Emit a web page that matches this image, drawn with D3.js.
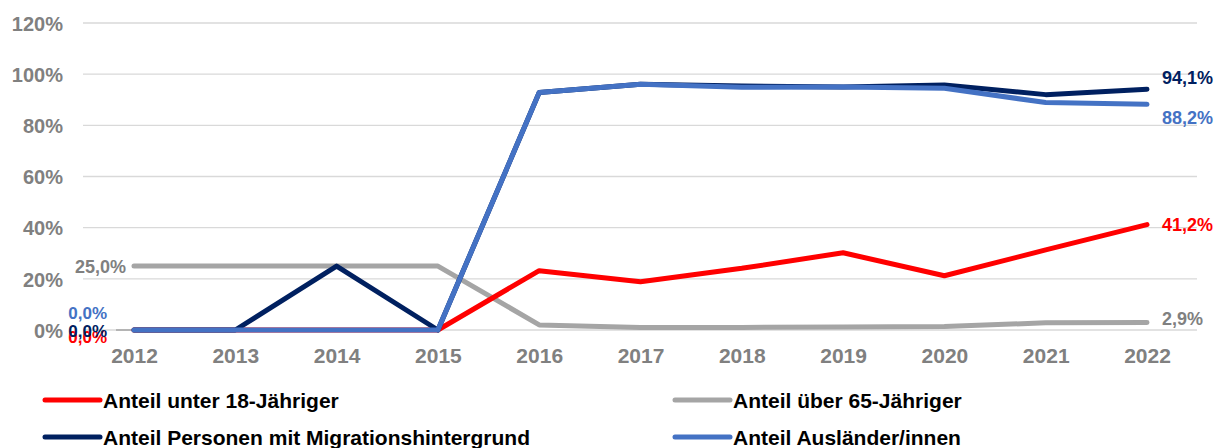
<!DOCTYPE html>
<html lang="de">
<head>
<meta charset="utf-8">
<script src="https://d3js.org/d3.v7.min.js"></script>
<style>
  body { margin: 0; background: #fff; }
  text { font-family: "Liberation Sans", Arial, sans-serif; font-weight: bold; }
</style>
</head>
<body>
<svg width="1223" height="448"></svg>
<script>
// data
var years = ["2012","2013","2014","2015","2016","2017","2018","2019","2020","2021","2022"];
var unter18   = [0, 0, 0, 0, 23.2, 18.9, 24.1, 30.2, 21.2, 31.3, 41.2];
var ueber65   = [25, 25, 25, 25, 2.0, 1.0, 1.0, 1.2, 1.4, 2.8, 2.9];
var migration = [0, 0, 25, 0, 92.8, 96.1, 95.4, 95.0, 95.8, 92.0, 94.1];
var auslaender= [0, 0, 0, 0, 92.8, 96.1, 94.9, 95.0, 94.5, 88.9, 88.2];
var yTicks = [0, 20, 40, 60, 80, 100, 120];

var series = [
  {name: "Anteil über 65-Jähriger", values: ueber65, color: "#A5A5A5", label: "#808080"},
  {name: "Anteil unter 18-Jähriger", values: unter18, color: "#FF0000", label: "#FF0000"},
  {name: "Anteil Personen mit Migrationshintergrund", values: migration, color: "#002060", label: "#002060"},
  {name: "Anteil Ausländer/innen", values: auslaender, color: "#4472C4", label: "#4472C4"}
];

var svg = d3.select("svg");
var fmt = function(v){ return v.toFixed(1).replace(".", ",") + "%"; };

var x = d3.scalePoint().domain(years).range([134, 1147]);
var y = d3.scaleLinear().domain([0, 120]).range([330, 23]);

// gridlines
svg.append("g").selectAll("line").data(yTicks).enter().append("line")
  .attr("x1", 83).attr("x2", 1197)
  .attr("y1", function(d){ return y(d); }).attr("y2", function(d){ return y(d); })
  .attr("stroke", "#D9D9D9").attr("stroke-width", 1.3);

// y axis labels
var yAxis = svg.append("g").attr("transform", "translate(63,0)")
  .call(d3.axisLeft(y).tickValues(yTicks).tickSize(0).tickPadding(0).tickFormat(function(d){ return d + "%"; }));
yAxis.select(".domain").remove();
yAxis.selectAll("text").attr("fill", "#808080").style("font-size", "20px").attr("dy", "0.36em");

// x axis labels
var xAxis = svg.append("g").attr("transform", "translate(0,355)")
  .call(d3.axisBottom(x).tickSize(0).tickPadding(0));
xAxis.select(".domain").remove();
xAxis.selectAll("text").attr("fill", "#808080").style("font-size", "21px").attr("dy", "0.36em");

// leader line for the 0,0% labels
svg.append("line").attr("x1", 116).attr("x2", 131).attr("y1", y(0)).attr("y2", y(0))
  .attr("stroke", "#A5A5A5").attr("stroke-width", 1.5);

var line = d3.line().x(function(d, i){ return x(years[i]); }).y(function(d){ return y(d); });

svg.append("g").selectAll("path").data(series).enter().append("path")
  .attr("d", function(s){ return line(s.values); })
  .attr("fill", "none")
  .attr("stroke", function(s){ return s.color; })
  .attr("stroke-width", 5)
  .attr("stroke-linejoin", "round")
  .attr("stroke-linecap", "round");

// end labels
var last = years.length - 1;
var endOff = {"Anteil über 65-Jähriger": -4, "Anteil unter 18-Jähriger": 0,
  "Anteil Personen mit Migrationshintergrund": -12, "Anteil Ausländer/innen": 13};
svg.append("g").selectAll("text").data(series).enter().append("text")
  .attr("x", x(years[last]) + 15)
  .attr("y", function(s){ return y(s.values[last]) + endOff[s.name]; })
  .attr("dy", "0.36em")
  .attr("fill", function(s){ return s.label; })
  .style("font-size", "18px")
  .text(function(s){ return fmt(s.values[last]); });

// start labels
var startOff = {"Anteil über 65-Jähriger": 0, "Anteil unter 18-Jähriger": 7,
  "Anteil Personen mit Migrationshintergrund": 1, "Anteil Ausländer/innen": -17};
svg.append("g").selectAll("text").data(series).enter().append("text")
  .attr("x", function(s){ return s.values[0] ? x(years[0]) - 8 : 107; })
  .attr("y", function(s){ return y(s.values[0]) + startOff[s.name]; })
  .attr("dy", "0.36em")
  .attr("text-anchor", "end")
  .attr("fill", function(s){ return s.label; })
  .style("font-size", function(s){ return s.values[0] ? "18px" : "17px"; })
  .text(function(s){ return fmt(s.values[0]); });

// legend
var legendItems = [series[1], series[0], series[2], series[3]];
var lg = svg.append("g").selectAll("g").data(legendItems).enter().append("g")
  .attr("transform", function(d, i){ return "translate(" + (i % 2 ? 675 : 45) + "," + (i < 2 ? 400 : 437) + ")"; });
lg.append("line").attr("x1", 0).attr("x2", 55).attr("y1", 0).attr("y2", 0)
  .attr("stroke", function(d){ return d.color; }).attr("stroke-width", 5).attr("stroke-linecap", "round");
lg.append("text").attr("x", 58).attr("dy", "0.36em").attr("fill", "#000")
  .style("font-size", "21px")
  .text(function(d){ return d.name; });
</script>
</body>
</html>
